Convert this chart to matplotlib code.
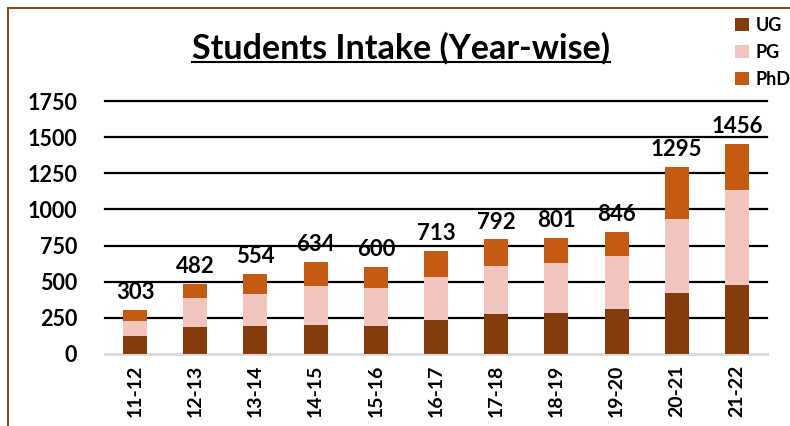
import matplotlib
matplotlib.use('Agg')
import matplotlib.pyplot as plt
from matplotlib.lines import Line2D
import numpy as np

years = ['11-12', '12-13', '13-14', '14-15', '15-16', '16-17',
         '17-18', '18-19', '19-20', '20-21', '21-22']
ug = [127, 185, 192, 199, 192, 234, 274, 283, 309, 422, 477]
pg = [100, 202, 225, 271, 264, 298, 332, 344, 366, 509, 654]
phd = [76, 95, 137, 164, 144, 181, 186, 174, 171, 364, 325]
totals = [303, 482, 554, 634, 600, 713, 792, 801, 846, 1295, 1456]

plt.rcParams['font.family'] = ['Lato', 'DejaVu Sans']

fig = plt.figure(figsize=(7.9, 4.26), dpi=100)
ax = fig.add_axes([105/790, 72/426, 662/790, 253/426])

x = np.arange(len(years))
w = 0.4
c_ug, c_pg, c_phd = '#843C0C', '#F2C5BE', '#C55A11'
ug_a, pg_a = np.array(ug), np.array(pg)
ax.bar(x, ug, w, color=c_ug, label='UG', zorder=3)
ax.bar(x, pg, w, bottom=ug_a, color=c_pg, label='PG', zorder=3)
ax.bar(x, phd, w, bottom=ug_a + pg_a, color=c_phd, label='PhD', zorder=3)

for xi, t in zip(x, totals):
    ax.annotate(str(t), (xi, t), xytext=(0, 5), textcoords='offset points',
                ha='center', va='bottom', fontsize=16, fontweight='bold')

ax.set_xlim(-0.5, len(years) - 0.5)
ax.set_ylim(0, 1750)
ax.set_yticks(range(0, 1751, 250))
ax.set_xticks(x)
ax.set_xticklabels(years, rotation=90, fontsize=14, fontweight='bold')
for lab in ax.get_yticklabels():
    lab.set_fontsize(15.5)
    lab.set_fontweight('bold')
ax.tick_params(axis='both', length=0)
ax.tick_params(axis='y', pad=20)
ax.tick_params(axis='x', pad=8)

for v in range(250, 1751, 250):
    ax.axhline(v, color='black', lw=1.6, zorder=1, clip_on=False)
for s in ['top', 'right', 'left']:
    ax.spines[s].set_visible(False)
ax.spines['bottom'].set_color('#D9D9D9')
ax.spines['bottom'].set_linewidth(2)

leg = fig.legend(loc='upper left', bbox_to_anchor=(726/790, 1 - 8/426),
                 frameon=False, prop={'size': 13, 'weight': 'bold'},
                 handlelength=0.75, handleheight=0.75, handletextpad=0.4,
                 labelspacing=0.55, borderpad=0)

title = fig.text(401/790, 1 - 48/426, 'Students Intake (Year-wise)',
                 ha='center', va='center', fontsize=24.5, fontweight='bold')

# frame around chart (partly cropped in original)
fig.add_artist(Line2D([8/790, 8/790], [0, 1 - 8/426], color='#8B4A1C', lw=1.5))
fig.add_artist(Line2D([8/790, 1], [1 - 8/426, 1 - 8/426], color='#8B4A1C', lw=1.5))

# underline the title
fig.canvas.draw()
bb = title.get_window_extent().transformed(fig.transFigure.inverted())
fig.add_artist(Line2D([bb.x0, bb.x1], [bb.y0 + 0.005, bb.y0 + 0.005], color='black', lw=1.5))

fig.savefig('out.png', dpi=100)
